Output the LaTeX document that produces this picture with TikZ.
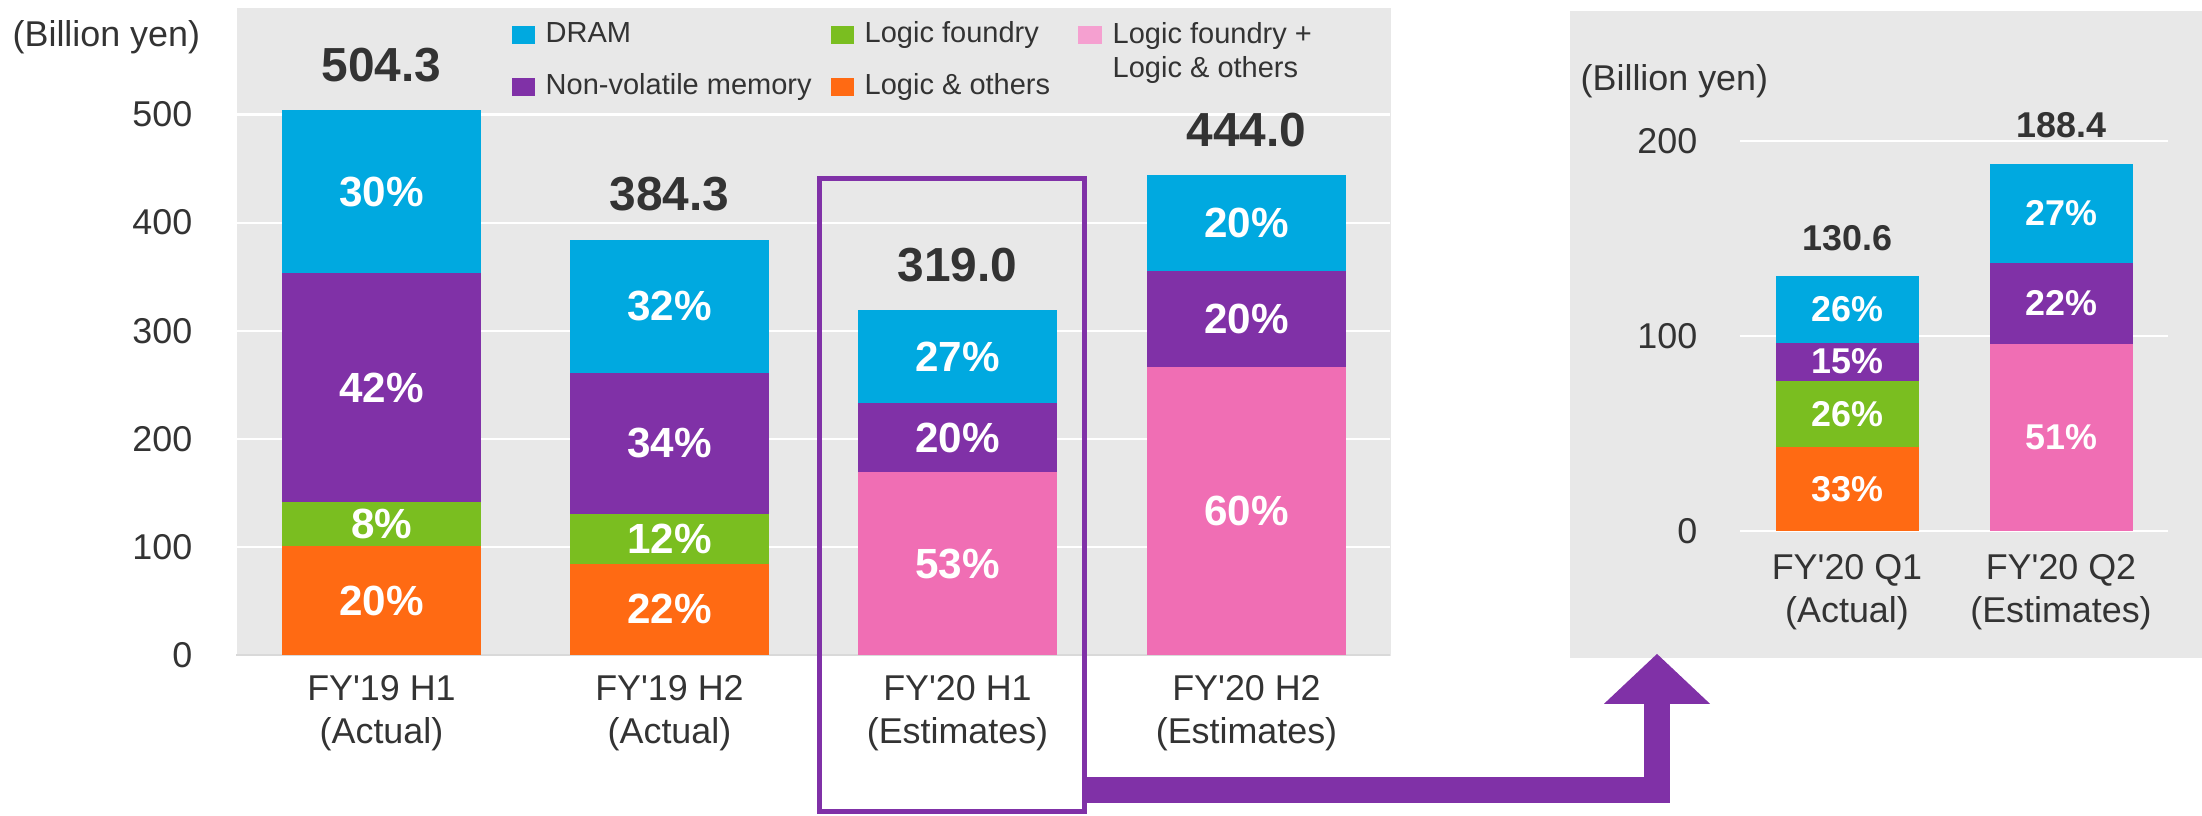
\documentclass[tikz,border=0pt]{standalone}
\usepackage{fontspec}
\setmainfont{Liberation Sans}
\usetikzlibrary{arrows.meta,calc}
\definecolor{dramblue}{RGB}{0,169,224}
\definecolor{nvmpurple}{RGB}{128,49,167}
\definecolor{foundrygreen}{RGB}{122,190,32}
\definecolor{logicorange}{RGB}{255,106,19}
\definecolor{mixpink}{RGB}{240,110,180}
\definecolor{mixpinklight}{RGB}{245,160,208}
\definecolor{panelgray}{RGB}{232,232,232}
\definecolor{axisgray}{RGB}{217,217,217}
\definecolor{textgray}{RGB}{51,51,51}

\begin{document}
\begin{tikzpicture}[x=0.01cm, y=-0.01cm,
    panel/.style={fill=panelgray, inner sep=0pt, anchor=north west},
    gridline/.style={white, line width=0.6pt},
    ticklbl/.style={font=\fontsize{10.2}{12.4}\selectfont, text=textgray, anchor=east, inner sep=0pt},
    catlbl/.style={font=\fontsize{10.2}{12.4}\selectfont, text=textgray, align=center, inner sep=0pt},
    leglbl/.style={font=\fontsize{8.25}{9.7}\selectfont, text=textgray, inner sep=0pt},
    totbig/.style={font=\fontsize{13.6}{16}\selectfont\bfseries, text=textgray, inner sep=0pt},
    pctbig/.style={font=\fontsize{12}{14}\selectfont\bfseries, text=white, inner sep=0pt},
    totsmall/.style={font=\fontsize{10.2}{12}\selectfont\bfseries, text=textgray, inner sep=0pt},
    pctsmall/.style={font=\fontsize{10.2}{12}\selectfont\bfseries, text=white, inner sep=0pt},
    bigarrow/.style={nvmpurple, line width=0.26cm, line join=miter, -{Triangle[length=0.5cm,width=1.03cm]}}]
    \useasboundingbox (0,0) rectangle (2202,816);

    % half-year panel
    \node[panel, minimum width=11.54cm, minimum height=6.48cm] (mainpanel) at (236,7) {};
    \foreach \v in {100,200,...,500} {
        \draw[gridline] (236,{655-\v*1.081}) -- (1390,{655-\v*1.081});
    }
    \draw[axisgray, line width=0.6pt] (236,655) -- (1390,655);
    \foreach \v in {0,100,...,500} {
        \node[ticklbl] (tick\v) at (193,{655-\v*1.081}) {\v};
    }
    \node[leglbl, anchor=west] (unitmain) at (12,37) {\fontsize{10.2}{12.4}\selectfont(Billion yen)};

    \foreach \n/\lx/\tot/\segs in {
        1/282/504.3/{0/20/logicorange,20/28/foundrygreen,28/70/nvmpurple,70/100/dramblue},
        2/570/384.3/{0/22/logicorange,22/34/foundrygreen,34/68/nvmpurple,68/100/dramblue},
        3/858/319.0/{0/53/mixpink,53/73/nvmpurple,73/100/dramblue},
        4/1147/444.0/{0/60/mixpink,60/80/nvmpurple,80/100/dramblue}} {
        \foreach \lo/\hi/\col in \segs {
            \pgfmathtruncatemacro{\pc}{\hi-\lo}
            \fill[\col] (\lx,{655-\tot*1.081/100*\lo}) rectangle ({\lx+199},{655-\tot*1.081/100*\hi});
            \node[pctbig] (pct\n-\col) at ({\lx+99.5},{655-\tot*1.081/200*(\lo+\hi)}) {\pc\%};
        }
        \node[totbig] (tot\n) at ({\lx+99.5},{610-\tot*1.081}) {\tot};
    }
    \foreach \n/\lx/\txt in {
        1/282/{FY\textquotesingle19 H1\\(Actual)},
        2/570/{FY\textquotesingle19 H2\\(Actual)},
        3/858/{FY\textquotesingle20 H1\\(Estimates)},
        4/1147/{FY\textquotesingle20 H2\\(Estimates)}} {
        \node[catlbl] (cat\n) at ({\lx+99.5},713) {\txt};
    }

    % legend
    \foreach \col/\lx/\ly/\txt in {
        dramblue/512/26/DRAM, nvmpurple/512/78/Non-volatile memory,
        foundrygreen/831/26/Logic foundry, logicorange/831/78/Logic \& others} {
        \fill[\col] (\lx,\ly) rectangle ++(23,18);
        \node[leglbl, anchor=base west] (leg-\col) at ({\lx+33},{\ly+17}) {\txt};
    }
    \fill[mixpinklight] (1078,26) rectangle ++(24,18);
    \node[leglbl, anchor=north west, align=left] (leg-mixpink) at (1112,22) {Logic foundry +\\Logic \& others};

    % quarter panel
    \node[panel, minimum width=6.33cm, minimum height=6.47cm] (qpanel) at (1569,10) {};
    \foreach \v in {0,100,200} {
        \draw[gridline] (1740,{531-\v*1.95}) -- (2168,{531-\v*1.95});
        \node[ticklbl] (qtick\v) at (1698,{531-\v*1.95}) {\v};
    }
    \node[leglbl, anchor=west] (unitq) at (1580,81) {\fontsize{10.2}{12.4}\selectfont(Billion yen)};

    \foreach \n/\lx/\tot/\segs in {
        5/1776/130.6/{0/33/logicorange,33/59/foundrygreen,59/74/nvmpurple,74/100/dramblue},
        6/1990/188.4/{0/51/mixpink,51/73/nvmpurple,73/100/dramblue}} {
        \foreach \lo/\hi/\col in \segs {
            \pgfmathtruncatemacro{\pc}{\hi-\lo}
            \fill[\col] (\lx,{531-\tot*1.95/100*\lo}) rectangle ({\lx+142.5},{531-\tot*1.95/100*\hi});
            \node[pctsmall] (pct\n-\col) at ({\lx+71.25},{531-\tot*1.95/200*(\lo+\hi)}) {\pc\%};
        }
        \node[totsmall] (tot\n) at ({\lx+71.25},{493-\tot*1.95}) {\tot};
    }
    \node[catlbl] (cat5) at (1847,592) {FY\textquotesingle20 Q1\\(Actual)};
    \node[catlbl] (cat6) at (2061,592) {FY\textquotesingle20 Q2\\(Estimates)};

    % focus box and arrow
    \node[draw=nvmpurple, line width=0.05cm, minimum width=2.64cm, minimum height=6.33cm, inner sep=0pt] (h1box) at (952,495) {};
    \draw[bigarrow] ($(h1box.south east)+(0,-24)$) -| ($(qpanel.south west)+(88,-5)$);
\end{tikzpicture}
\end{document}
